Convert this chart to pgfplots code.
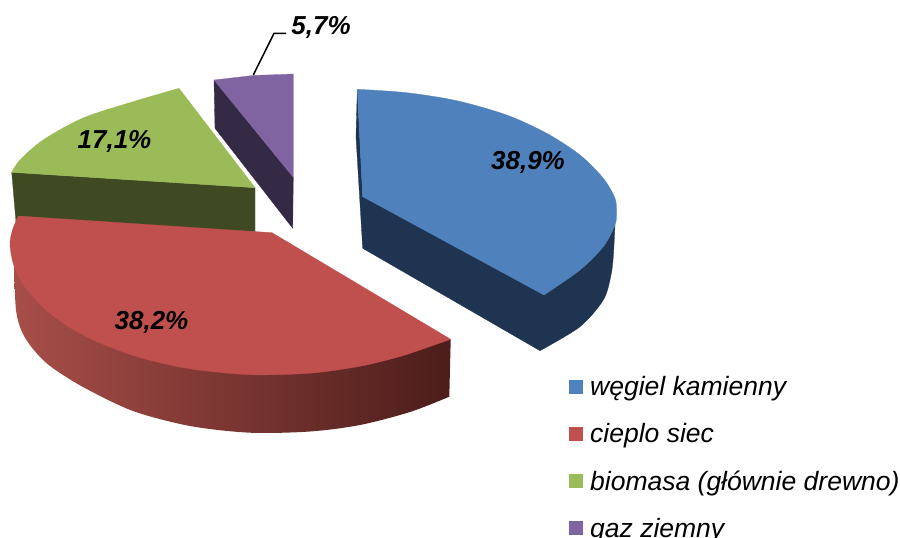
\documentclass[border=0pt]{standalone}
\usepackage{pgfplots}
\pgfplotsset{compat=1.18}
\usepackage{fontspec}
\setmainfont{Liberation Sans}
\definecolor{cb}{HTML}{4F81BD}\definecolor{cbd}{HTML}{1F3450}
\definecolor{cr}{HTML}{C0504D}\definecolor{crl}{HTML}{A84E49}\definecolor{crd}{HTML}{4C1D1A}
\definecolor{cg}{HTML}{9BBB59}\definecolor{cgd}{HTML}{3F4A22}
\definecolor{cp}{HTML}{8064A2}\definecolor{cpd}{HTML}{352A46}
\newcommand{\lab}{\fontsize{26}{26}\selectfont\bfseries\itshape}
\newcommand{\leg}{\fontsize{26.5}{26.5}\selectfont\itshape}
\begin{document}
\begin{tikzpicture}
\useasboundingbox (0,0) rectangle (900pt,538pt);
\clip (0,0) rectangle (900pt,538pt);
\begin{axis}[at={(0,0)},anchor=south west,scale only axis,width=900pt,height=538pt,
  xmin=0,xmax=900,ymin=0,ymax=538,y dir=reverse,hide axis,
  every axis plot/.append style={forget plot,mark=none,line width=0.3pt}]
% blue side
\addplot[draw=cbd,fill=cbd,smooth] coordinates {(540,350.7)(580,326.7)(603.3,300)(610.7,276.7)(613.3,256.7)(615,225)} -- (axis cs:362.7,197) -- (axis cs:357.3,89.3) -- (axis cs:356,137) -- (axis cs:362.7,248.3) -- cycle;
% blue top
\addplot[draw=cb,fill=cb,smooth] coordinates {(357.3,89.3)(406.7,92.7)(456.7,100.7)(506.7,115)(546.7,133.3)(580,155)(603.3,178.3)(615,198.3)(616.5,212)(615,225)(603.3,246.7)(580,270)(544,295)} -- (axis cs:362.7,196.7) -- cycle;
% purple
\addplot[draw=cpd,fill=cpd] coordinates {(214,80)(215,128.3)(292.7,228.3)(293.3,177.3)} --cycle;
\addplot[draw=cp,fill=cp] coordinates {(293.3,177.3)(214,80)(253,75.5)(293.3,74)} --cycle;
% green
\addplot[draw=cgd,fill=cgd] coordinates {(11.7,172.3)(16,222)(255,231.7)(255,187.7)} --cycle;
\addplot[draw=cg,fill=cg,smooth] coordinates {(179,88.3)(133,101.7)(83,118)(43,140)(20,160)(11.7,172.3)} -- (axis cs:255,187.7) -- cycle;
% red side
\addplot[draw=none,shade,shading angle=0,left color=crl,right color=crd,smooth] coordinates {(449.3,396.7)(410,412)(360,425)(310,431.5)(250,432.7)(190,426)(133,411)(83,387)(50,366)(33,349)(22,332)(16,310)(14,266)} -- (axis cs:450.7,339.3) -- cycle;
% red top
\addplot[draw=cr,fill=cr,smooth] coordinates {(18.3,216)(12.5,230)(10,245)(14,266)(25,287)(45,309)(70,327.6)(100,343)(140,357.6)(190,368.8)(250,374.7)(310,373.2)(360,366.3)(400,356.5)(430,346.5)(450.7,339.3)} -- (axis cs:272,232.7) -- cycle;
% leader
\addplot[black,line width=1.5pt] coordinates {(253.3,75)(274,33.3)(286,33.3)};
% legend keys
\addplot[draw=none,fill=cb] coordinates {(569,380)(583.3,380)(583.3,394)(569,394)} --cycle;
\addplot[draw=none,fill=cr] coordinates {(569,427)(583.3,427)(583.3,441)(569,441)} --cycle;
\addplot[draw=none,fill=cg] coordinates {(569,474)(583.3,474)(583.3,488)(569,488)} --cycle;
\addplot[draw=none,fill=cp] coordinates {(569,521)(583.3,521)(583.3,535)(569,535)} --cycle;
% labels
\node[font=\lab,inner sep=0pt] at (axis cs:528,162.5) {38,9\%};
\node[font=\lab,inner sep=0pt] at (axis cs:151.5,322.5) {38,2\%};
\node[font=\lab,inner sep=0pt] at (axis cs:114.5,141.5) {17,1\%};
\node[font=\lab,inner sep=0pt] at (axis cs:321,27.5) {5,7\%};
\node[font=\leg,inner sep=0pt,anchor=base west] at (axis cs:590,395.5) {węgiel kamienny};
\node[font=\leg,inner sep=0pt,anchor=base west] at (axis cs:590,442.5) {cieplo siec};
\node[font=\leg,inner sep=0pt,anchor=base west] at (axis cs:590,490) {biomasa (głównie drewno)};
\node[font=\leg,inner sep=0pt,anchor=base west] at (axis cs:590,537) {gaz ziemny};
\end{axis}
\end{tikzpicture}
\end{document}
